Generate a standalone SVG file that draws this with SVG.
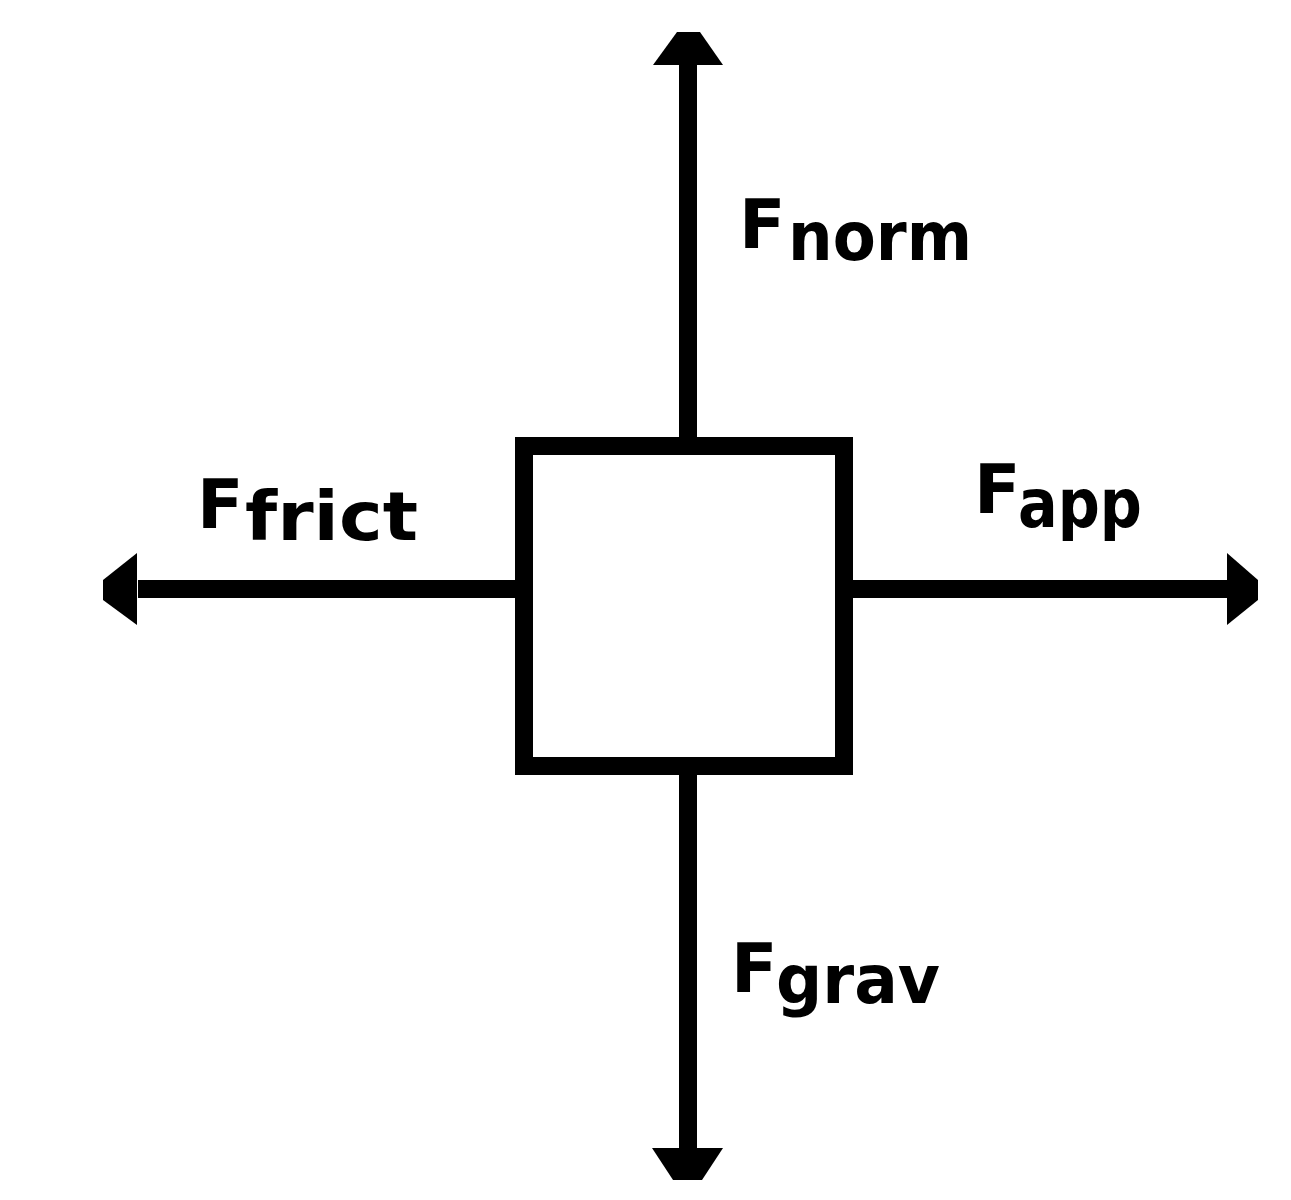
<svg xmlns="http://www.w3.org/2000/svg" width="1291" height="1200" viewBox="0 0 1291 1200">
<style>
.ln{stroke:#000;stroke-width:18;fill:none}
.hd{fill:#000}
.cap{font-family:"DejaVu Sans","Liberation Sans",sans-serif;font-weight:bold;font-size:68px;fill:#000}
.sub{font-family:"DejaVu Sans","Liberation Sans",sans-serif;font-weight:bold;font-size:68px;fill:#000}
</style>
<rect width="1291" height="1200" fill="#fff"/>
<g id="connectors">
<line class="ln" x1="688" y1="64" x2="688" y2="438"/>
<polygon class="hd" points="653,65 677,32 700,32 723,65"/>
<line class="ln" x1="688" y1="774" x2="688" y2="1149"/>
<polygon class="hd" points="652,1148 723,1148 702,1180 673,1180"/>
<line class="ln" x1="138" y1="589" x2="516" y2="589"/>
<polygon class="hd" points="137,553 137,625 103,600 103,580"/>
<line class="ln" x1="852" y1="589" x2="1228" y2="589"/>
<polygon class="hd" points="1227,553 1227,625 1258,600 1258,580"/>
</g>
<g id="box">
<rect x="524" y="446" width="320" height="320" fill="#fff" stroke="#000" stroke-width="18"/>
</g>
<g id="label-norm">
<text class="cap" x="739" y="248">F</text>
<text class="sub" x="788" y="260" textLength="184" lengthAdjust="spacingAndGlyphs">norm</text>
</g>
<g id="label-frict">
<text class="cap" x="197" y="528">F</text>
<text class="sub" x="245" y="540" textLength="173" lengthAdjust="spacingAndGlyphs">frict</text>
</g>
<g id="label-app">
<text class="cap" x="974" y="513">F</text>
<text class="sub" x="1018" y="527" textLength="124" lengthAdjust="spacingAndGlyphs">app</text>
</g>
<g id="label-grav">
<text class="cap" x="731" y="992">F</text>
<text class="sub" x="776" y="1003" textLength="164" lengthAdjust="spacingAndGlyphs">grav</text>
</g>
</svg>
